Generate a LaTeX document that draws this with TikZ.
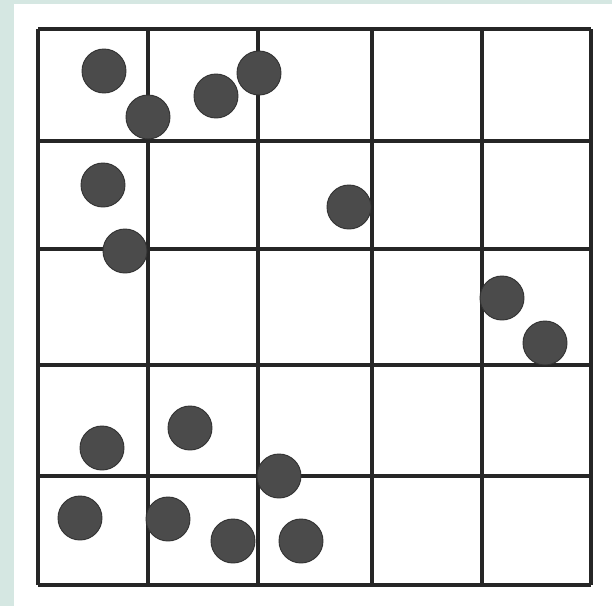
\documentclass[tikz,border=0pt]{standalone}
\usepackage{tikz}
\usepackage{xcolor}
\usetikzlibrary{positioning, shapes.geometric}

\definecolor{sfondo}{HTML}{D5E7E2}
\definecolor{griglia}{HTML}{262626}
\definecolor{punto}{HTML}{4B4B4B}

\begin{document}
\begin{tikzpicture}[
    x=0.03cm, y=-0.03cm,
    linea/.style={draw=griglia, line width=2.7pt},
    pallino/.style={circle, fill=punto, draw=black!80, line width=0.8pt, inner sep=0pt, minimum size=1.32cm}
]

% Sfondo e foglio
\fill[sfondo] (0,0) rectangle (612,606);
\fill[white] (14,4) rectangle (612,606);
\useasboundingbox (0,0) rectangle (612,606);

% Griglia 5x5
\foreach \x in {38,148,258,372,482,591}
    \draw[linea] (\x,29) -- (\x,585);
\foreach \y in {29,141,249,365,476,585}
    \draw[linea] (38,\y) -- (591,\y);

% Punti
\foreach \i/\px/\py in {1/104/71, 2/148/117, 3/216/96, 4/259/73,
                       5/103/185, 6/125/251, 7/349/207, 8/502/298,
                       9/545/343, 10/102/448, 11/190/428, 12/279/476,
                       13/80/518, 14/168/519, 15/233/541, 16/301/541}
    \node[pallino] (p\i) at (\px,\py) {};

\end{tikzpicture}
\end{document}
